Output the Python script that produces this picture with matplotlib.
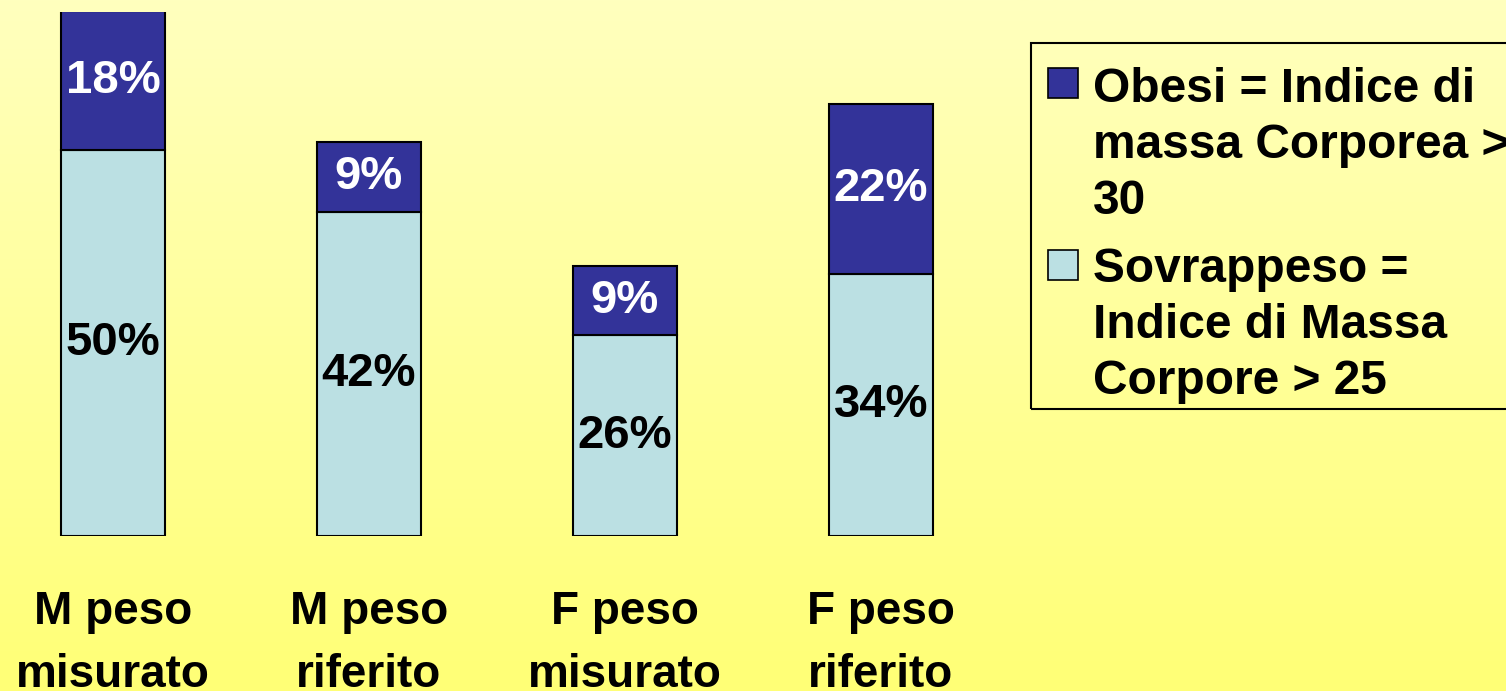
import matplotlib
matplotlib.use('Agg')
import matplotlib.pyplot as plt
import numpy as np
from matplotlib.patches import Rectangle

categories = ["M peso\nmisurato", "M peso\nriferito", "F peso\nmisurato", "F peso\nriferito"]
sovrappeso = [50, 42, 26, 34]
obesi = [18, 9, 9, 22]
series_names = ["Obesi = Indice di\nmassa Corporea >\n30",
                "Sovrappeso =\nIndice di Massa\nCorpore > 25"]

DARK = "#333399"
LIGHT = "#BBE0E3"
FONT = "Liberation Sans"
plt.rcParams['font.family'] = [FONT, 'DejaVu Sans']

W, H = 1506, 691
fig = plt.figure(figsize=(W / 100, H / 100), dpi=100)

# background gradient
bg = fig.add_axes([0, 0, 1, 1], zorder=-10)
top = np.array([255, 255, 190]) / 255
bot = np.array([255, 255, 118]) / 255
t = np.linspace(0, 1, 256)[:, None]
grad = (top[None, :] * (1 - t) + bot[None, :] * t)[:, None, :]
bg.imshow(grad, aspect='auto', extent=[0, 1, 0, 1])
bg.axis('off')

def fx(x):
    return x / W

def fy(y):
    return 1 - y / H

# main axes
ax_bottom, ax_top = 536, 12
ax = fig.add_axes([0, fy(ax_bottom), fx(1010), (ax_bottom - ax_top) / H])
ax.patch.set_visible(False)
pxper = 7.72
ax.set_ylim(0, (ax_bottom - ax_top) / pxper)
sp = 256.0
ax.set_xlim(-113 / sp, (1010 - 113) / sp)
x = np.arange(len(categories))
bw = 104 / sp
b1 = ax.bar(x, sovrappeso, width=bw, color=LIGHT, edgecolor='black', linewidth=1.5)
b2 = ax.bar(x, obesi, width=bw, bottom=sovrappeso, color=DARK, edgecolor='black', linewidth=1.5)

for i in range(len(categories)):
    ax.text(x[i], sovrappeso[i] / 2, f"{sovrappeso[i]}%", ha='center', va='center',
            fontsize=34, fontweight='bold', color='black')
    ax.text(x[i], sovrappeso[i] + obesi[i] / 2, f"{obesi[i]}%", ha='center', va='center',
            fontsize=34, fontweight='bold', color='white')

ax.set_xticks(x)
ax.set_xticklabels(categories, fontsize=33, fontweight='bold', linespacing=1.54)
ax.tick_params(axis='x', length=0, pad=39)
ax.set_yticks([])
for s in ax.spines.values():
    s.set_visible(False)

# legend (drawn manually)
fig.patches.append(Rectangle((fx(1031), fy(409)), fx(1530 - 1031), (409 - 43) / H,
                             transform=fig.transFigure, fill=False, edgecolor='black',
                             linewidth=1.5, clip_on=False))
colors = [DARK, LIGHT]
sq_tops = [68, 250]
first_baselines = [102, 282]
line_gap = 56
for k, name in enumerate(series_names):
    fig.patches.append(Rectangle((fx(1048), fy(sq_tops[k] + 30)), fx(30), 30 / H,
                                 transform=fig.transFigure, facecolor=colors[k],
                                 edgecolor='black', linewidth=1.2))
    for j, line in enumerate(name.split("\n")):
        fig.text(fx(1093), fy(first_baselines[k] + j * line_gap), line, ha='left',
                 va='baseline', fontsize=34.5, fontweight='bold', color='black')

fig.savefig("out.png", dpi=100)
